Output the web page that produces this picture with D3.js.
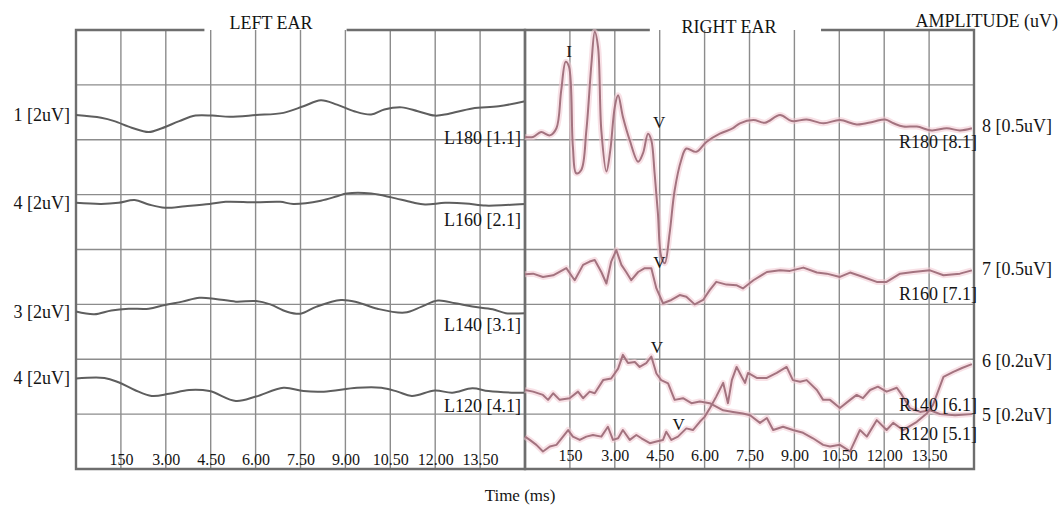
<!DOCTYPE html>
<html>
<head>
<meta charset="utf-8">
<script src="https://cdn.jsdelivr.net/npm/d3@7"></script>
<style>
  body { margin: 0; background: #fff; }
  text { font-family: "Liberation Serif", "Times New Roman", serif; fill: #151515; }
</style>
</head>
<body>
<div id="chart"></div>
<script>
// time axis (ms) and grid
const tickTimes = [1.5, 3, 4.5, 6, 7.5, 9, 10.5, 12, 13.5];
const tickLabels = ["150", "3.00", "4.50", "6.00", "7.50", "9.00", "10.50", "12.00", "13.50"];
const gridRows = [1, 2, 3, 4, 5, 6, 7];

// left ear traces: [time ms, level in grid divisions]
const l180 = [[0,6.45],[0.84,6.40],[1.28,6.34],[1.86,6.22],[2.43,6.14],[2.87,6.21],[3.45,6.34],[3.99,6.44],[4.56,6.44],[5.14,6.42],[6.01,6.45],[6.93,6.49],[7.60,6.61],[8.18,6.72],[8.72,6.64],[9.29,6.52],[9.86,6.46],[10.30,6.55],[10.88,6.59],[11.42,6.52],[11.99,6.44],[12.43,6.47],[13.24,6.57],[14.12,6.61],[15,6.70]];
const l160 = [[0,4.85],[0.84,4.83],[1.42,4.85],[1.96,4.90],[2.43,4.82],[2.97,4.76],[3.65,4.79],[4.46,4.83],[5.00,4.87],[6.01,4.86],[6.82,4.87],[7.26,4.83],[8.18,4.89],[8.72,4.97],[9.05,5.02],[9.86,5.02],[10.54,4.95],[11.22,4.86],[11.66,4.82],[12.33,4.85],[13.01,4.84],[13.68,4.80],[14.36,4.81],[15,4.83]];
const l140 = [[0,2.87],[0.61,2.82],[1.18,2.89],[1.76,2.92],[2.43,2.92],[2.97,2.99],[3.55,3.05],[4.12,3.12],[4.66,3.10],[5.34,3.05],[6.01,3.06],[6.49,3.00],[7.03,2.87],[7.50,2.83],[8.04,2.96],[8.85,3.08],[9.39,3.04],[10.07,2.92],[10.98,2.85],[11.55,2.96],[12.09,3.07],[12.67,3.02],[13.24,2.96],[13.92,2.91],[14.36,2.84],[15,2.84]];
const l120 = [[0,1.65],[0.95,1.66],[1.42,1.58],[1.96,1.44],[2.53,1.33],[3.11,1.37],[3.78,1.44],[4.46,1.42],[5.34,1.24],[6.01,1.32],[6.93,1.48],[7.60,1.42],[8.28,1.41],[9.39,1.48],[10.20,1.48],[10.74,1.41],[11.22,1.33],[11.99,1.43],[12.57,1.39],[13.24,1.47],[13.78,1.42],[14.70,1.39],[15,1.39]];

// right ear traces
const r180 = [[0,6.05],[0.27,6.05],[0.54,6.14],[0.83,6.08],[1.05,6.21],[1.21,6.90],[1.36,7.42],[1.47,7.33],[1.60,5.87],[1.71,5.39],[1.88,5.45],[2.05,6.17],[2.22,7.39],[2.33,7.97],[2.44,7.69],[2.55,6.17],[2.72,5.42],[2.85,5.81],[3.00,6.60],[3.11,6.81],[3.27,6.42],[3.50,5.99],[3.78,5.60],[3.94,5.75],[4.11,6.11],[4.22,5.99],[4.33,5.39],[4.44,4.66],[4.55,3.87],[4.67,3.75],[4.83,4.29],[5.00,5.08],[5.22,5.63],[5.39,5.84],[5.72,5.78],[6.06,5.96],[6.51,6.11],[6.95,6.21],[7.18,6.30],[7.63,6.36],[8.02,6.31],[8.52,6.45],[8.91,6.34],[9.41,6.37],[9.97,6.30],[10.52,6.36],[11.08,6.28],[11.64,6.33],[12.03,6.37],[12.31,6.30],[12.64,6.24],[13.09,6.24],[13.59,6.17],[14.09,6.21],[14.53,6.17],[14.93,6.21]];
const r160 = [[0,3.55],[0.27,3.56],[0.60,3.50],[0.94,3.53],[1.38,3.66],[1.66,3.44],[1.94,3.72],[2.16,3.78],[2.33,3.81],[2.55,3.59],[2.72,3.38],[2.88,3.78],[3.05,3.99],[3.22,3.72],[3.38,3.59],[3.55,3.44],[3.78,3.59],[4.00,3.66],[4.22,3.66],[4.39,3.29],[4.61,3.02],[4.89,3.08],[5.17,3.17],[5.39,3.14],[5.67,3.00],[5.95,3.08],[6.17,3.26],[6.39,3.41],[6.73,3.36],[7.06,3.35],[7.28,3.29],[7.63,3.44],[8.08,3.59],[8.52,3.62],[8.85,3.61],[9.30,3.67],[9.75,3.58],[10.08,3.56],[10.52,3.50],[10.86,3.58],[11.30,3.50],[11.75,3.41],[12.08,3.41],[12.53,3.56],[12.97,3.59],[13.53,3.62],[13.98,3.53],[14.53,3.56],[14.93,3.62]];
const r140 = [[0,1.44],[0.27,1.41],[0.60,1.35],[0.77,1.26],[0.94,1.38],[1.16,1.26],[1.49,1.29],[1.77,1.41],[1.94,1.29],[2.16,1.41],[2.33,1.38],[2.61,1.62],[2.88,1.65],[3.11,1.83],[3.27,2.08],[3.44,1.93],[3.67,1.95],[3.83,1.86],[4.05,1.93],[4.22,2.05],[4.39,1.74],[4.55,1.62],[4.78,1.56],[5.00,1.26],[5.28,1.29],[5.56,1.20],[5.84,1.23],[6.17,1.20],[6.62,1.07],[6.95,1.04],[7.28,1.01],[7.52,0.98],[7.85,0.84],[8.08,0.93],[8.29,0.71],[8.62,0.77],[8.95,0.71],[9.29,0.66],[9.62,0.56],[9.96,0.44],[10.19,0.41],[10.52,0.44],[10.86,0.32],[11.19,0.71],[11.42,0.59],[11.75,0.89],[12.08,0.71],[12.30,0.84],[12.63,0.71],[13.09,0.86],[13.42,1.01],[13.63,1.17],[13.98,1.68],[14.31,1.77],[14.60,1.84],[14.93,1.91]];
const r120 = [[0,0.59],[0.16,0.53],[0.38,0.44],[0.60,0.32],[0.83,0.41],[1.05,0.44],[1.27,0.59],[1.44,0.71],[1.60,0.59],[1.83,0.53],[2.05,0.59],[2.27,0.62],[2.55,0.59],[2.77,0.77],[2.94,0.53],[3.11,0.56],[3.27,0.71],[3.50,0.53],[3.72,0.62],[3.89,0.56],[4.17,0.47],[4.39,0.50],[4.61,0.53],[4.72,0.68],[4.89,0.53],[5.11,0.59],[5.39,0.74],[5.61,0.71],[5.84,0.86],[6.00,0.95],[6.18,1.11],[6.38,1.31],[6.62,1.57],[6.78,1.20],[6.91,1.62],[7.07,1.86],[7.24,1.68],[7.35,1.57],[7.45,1.75],[7.74,1.66],[8.08,1.66],[8.41,1.75],[8.74,1.86],[8.95,1.62],[9.19,1.59],[9.41,1.62],[9.75,1.44],[9.96,1.26],[10.19,1.26],[10.52,1.11],[10.86,1.26],[11.08,1.35],[11.29,1.29],[11.53,1.44],[11.79,1.50],[12.08,1.41],[12.42,1.48],[12.59,1.35],[12.86,1.11],[13.20,1.04],[13.53,1.07],[13.87,1.00],[14.37,0.98],[14.93,1.00]];

// channel labels
const leftGains = ["1 [2uV]", "4 [2uV]", "3 [2uV]", "4 [2uV]"];
const leftNames = ["L180 [1.1]", "L160 [2.1]", "L140 [3.1]", "L120 [4.1]"];
const rightGains = ["8 [0.5uV]", "7 [0.5uV]", "6 [0.2uV]", "5 [0.2uV]"];
const rightNames = ["R180 [8.1]", "R160 [7.1]", "R140 [6.1]", "R120 [5.1]"];
// wave markers: [label, time ms, level]
const peaks = [["I", 1.47, 7.51], ["V", 4.48, 6.21], ["V", 4.49, 3.66], ["V", 4.41, 2.11], ["V", 5.13, 0.71]];

// layout (label levels in grid divisions)
const leftNameLevel = [5.93, 4.43, 2.51, 1.04];
const rightGainLevel = [6.14, 3.53, 1.86, 0.87];
const rightNameLevel = [5.85, 3.08, 1.06, 0.53];

const W = 1063, H = 506;
const yTop = 30, yBottom = 469;
const font = 18;

const svg = d3.select("#chart").append("svg")
  .attr("width", W)
  .attr("height", H);

const y = d3.scaleLinear().domain([0, 8]).range([yBottom, yTop]);

const panels = [
  {x0: 76, x1: 525, gap: [4.29, 9.04], traces: [l180, l160, l140, l120], right: false, tickPad: 4},
  {x0: 525, x1: 974, gap: [4.17, 9.89], traces: [r180, r160, r140, r120], right: true, tickPad: 8},
];

const lineSmooth = (x) => d3.line().x(d => x(d[0])).y(d => y(d[1])).curve(d3.curveCatmullRom.alpha(0.5));
const lineRough = (x) => d3.line().x(d => x(d[0])).y(d => y(d[1]));

panels.forEach(p => {
  const x = d3.scaleLinear().domain([0, 15]).range([p.x0, p.x1]);
  p.x = x;
  const g = svg.append("g");

  // grid
  g.selectAll("line.v").data(tickTimes).join("line")
    .attr("x1", d => x(d)).attr("x2", d => x(d))
    .attr("y1", yTop).attr("y2", yBottom)
    .attr("stroke", "#8c8c8c").attr("stroke-width", 1.4);
  g.selectAll("line.h").data(gridRows).join("line")
    .attr("x1", p.x0).attr("x2", p.x1)
    .attr("y1", d => y(d)).attr("y2", d => y(d))
    .attr("stroke", "#8c8c8c").attr("stroke-width", 1.4);

  // frame, open at the top for the title
  const frame = d3.path();
  frame.moveTo(x(p.gap[0]), yTop);
  frame.lineTo(p.x0, yTop);
  frame.lineTo(p.x0, yBottom);
  frame.lineTo(p.x1, yBottom);
  frame.lineTo(p.x1, yTop);
  frame.lineTo(x(p.gap[1]), yTop);
  g.append("path").attr("d", frame.toString())
    .attr("fill", "none").attr("stroke", "#6e6e6e").attr("stroke-width", 2.4);

  // traces
  if (p.right) {
    g.selectAll("path.halo").data(p.traces).join("path")
      .attr("d", (d, i) => (i === 0 ? lineSmooth(x) : lineRough(x))(d))
      .attr("fill", "none").attr("stroke", "#f3c9d1").attr("stroke-width", 6)
      .attr("stroke-opacity", 0.55).attr("stroke-linejoin", "round");
    g.selectAll("path.trace").data(p.traces).join("path")
      .attr("d", (d, i) => (i === 0 ? lineSmooth(x) : lineRough(x))(d))
      .attr("fill", "none").attr("stroke", "#a3737f").attr("stroke-width", 2)
      .attr("stroke-linejoin", "round");
  } else {
    g.selectAll("path.trace").data(p.traces).join("path")
      .attr("d", d => lineSmooth(x)(d))
      .attr("fill", "none").attr("stroke", "#5e5e5e").attr("stroke-width", 2);
  }

  // time tick labels inside the bottom of the panel
  const ax = g.append("g")
    .attr("transform", `translate(0,${yBottom})`)
    .call(d3.axisTop(x).tickValues(tickTimes).tickFormat((d, i) => tickLabels[i]).tickSize(0).tickPadding(p.tickPad));
  ax.select(".domain").remove();
  ax.attr("font-family", null).attr("font-size", null);
  ax.selectAll("text").attr("font-size", 16).attr("fill", "#151515");
});

const [L, R] = panels;

// left channel labels
svg.selectAll("text.lgain").data(leftGains).join("text")
  .attr("x", 70).attr("y", (d, i) => y(L.traces[i][0][1]) + 6)
  .attr("text-anchor", "end").attr("font-size", font).text(d => d);
svg.selectAll("text.lname").data(leftNames).join("text")
  .attr("x", 521).attr("y", (d, i) => y(leftNameLevel[i]))
  .attr("text-anchor", "end").attr("font-size", font).text(d => d);

// right channel labels
svg.selectAll("text.rgain").data(rightGains).join("text")
  .attr("x", 982).attr("y", (d, i) => y(rightGainLevel[i]))
  .attr("font-size", font).text(d => d);
svg.selectAll("text.rname").data(rightNames).join("text")
  .attr("x", 977).attr("y", (d, i) => y(rightNameLevel[i]))
  .attr("text-anchor", "end").attr("font-size", font).text(d => d);

// peak markers
svg.selectAll("text.peak").data(peaks).join("text")
  .attr("x", d => R.x(d[1])).attr("y", d => y(d[2]))
  .attr("text-anchor", "middle").attr("font-size", 17).text(d => d[0]);

// titles
svg.append("text").attr("x", 271).attr("y", 28.5).attr("text-anchor", "middle")
  .attr("font-size", font).text("LEFT EAR");
svg.append("text").attr("x", 729).attr("y", 33).attr("text-anchor", "middle")
  .attr("font-size", font).text("RIGHT EAR");
svg.append("text").attr("x", 1058).attr("y", 27).attr("text-anchor", "end")
  .attr("font-size", font).text("AMPLITUDE (uV)");
svg.append("text").attr("x", 520).attr("y", 501).attr("text-anchor", "middle")
  .attr("font-size", 17).text("Time (ms)");
</script>
</body>
</html>
